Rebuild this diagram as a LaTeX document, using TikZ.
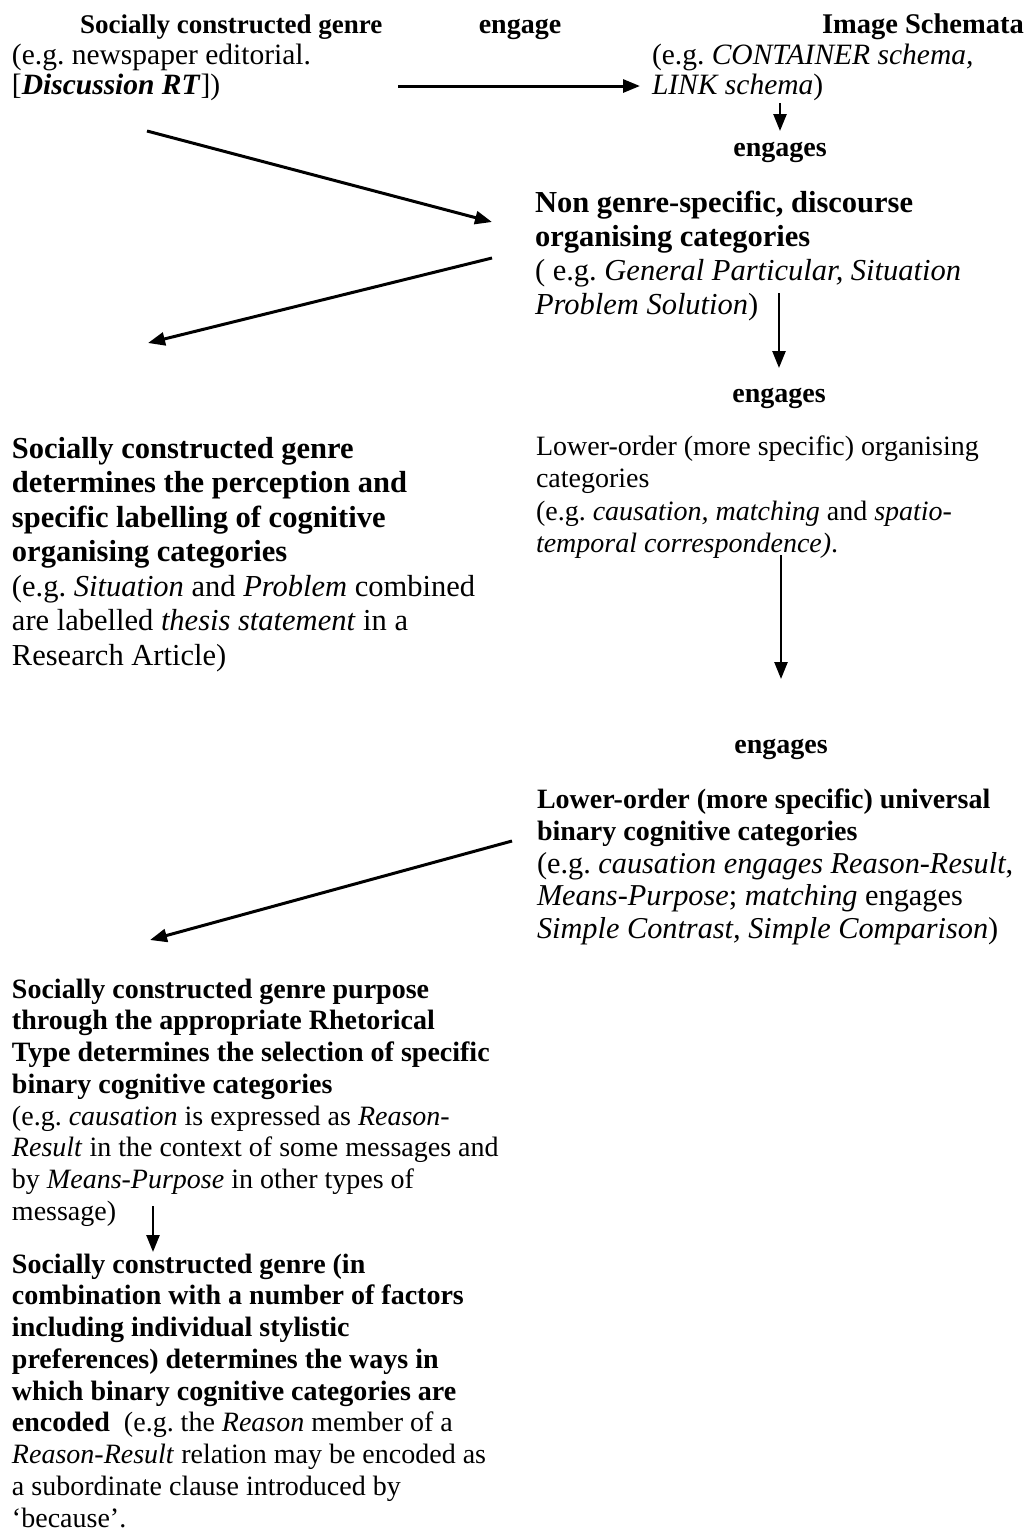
\documentclass[tikz,border=0pt]{standalone}
\usepackage{fontspec}
\setmainfont{Liberation Serif}
\usetikzlibrary{arrows.meta}
\newcommand\setfs[2]{\fontsize{#1}{#2}\selectfont}
\frenchspacing
\begin{document}
\begin{tikzpicture}[x=1pt,y=-1pt,
  % multi-line texts are anchored on the baseline of their last line
  txt/.style={inner sep=0pt, outer sep=0pt, align=left, anchor=base west},
  lbl/.style={inner sep=0pt, outer sep=0pt, anchor=base, font=\setfs{28}{32}\bfseries},
  flow/.style={line width=3pt, -{Triangle[length=17pt,width=13pt]}},
  ]
\useasboundingbox (0,0) rectangle (1031,1532);

% --- top row: genre, engage, image schemata
\node[txt, font=\setfs{27}{31}\bfseries] (genrehead) at (80,33) {Socially constructed genre};
\node[txt, font=\setfs{29.5}{30}] (genreex) at (12,94)
  {(e.g. newspaper editorial.\\ {[}\textbf{\textit{Discussion RT}}{]})};
\node[lbl] (engage) at (520,33) {engage};
\node[txt, font=\setfs{28.5}{31}\bfseries] (schemahead) at (822,33) {Image Schemata};
\node[txt, font=\setfs{29.5}{30}] (schemaex) at (652,94)
  {(e.g. \textit{CONTAINER schema,}\\ \textit{LINK schema})};

% --- right column
\node[lbl] (eng1) at (780,156) {engages};
\node[txt, font=\setfs{30.5}{34}] (nongenre) at (535,314)
  {\textbf{Non genre-specific, discourse}\\
   \textbf{organising categories}\\
   ( e.g. \textit{General Particular, Situation}\\
   \textit{Problem Solution})};
\node[lbl] (eng2) at (779,402) {engages};
\node[txt, font=\setfs{28}{32.5}] (lowerorg) at (536,552.5)
  {Lower-order (more specific) organising\\
   categories\\
   (e.g. \textit{causation, matching} and \textit{spatio-}\\
   \textit{temporal correspondence)}.};
\node[lbl] (eng3) at (781,753) {engages};
\node[txt, font=\setfs{30.3}{32.5}] (binary) at (537,938)
  {{\setfs{28}{32.5}\bfseries Lower-order (more specific) universal}\\
   {\setfs{28}{32.5}\bfseries binary cognitive categories}\\
   (e.g. \textit{causation engages Reason-Result},\\
   \textit{Means-Purpose}; \textit{matching} engages\\
   \textit{Simple Contrast, Simple Comparison})};

% --- left column
\node[txt, font=\setfs{30.5}{34.5}] (perception) at (12,665)
  {\textbf{Socially constructed genre}\\
   \textbf{determines the perception and}\\
   \textbf{specific labelling of cognitive}\\
   \textbf{organising categories}\\
   (e.g. \textit{Situation} and \textit{Problem} combined\\
   are labelled \textit{thesis statement} in a\\
   Research Article)};
\node[txt, font=\setfs{28}{31.75}] (selection) at (12,1220.25)
  {\textbf{Socially constructed genre purpose}\\
   \textbf{through the appropriate Rhetorical}\\
   \textbf{Type determines the selection of specific}\\
   \textbf{binary cognitive categories}\\
   (e.g. \textit{causation} is expressed as \textit{Reason-}\\
   \textit{Result} in the context of some messages and\\
   by \textit{Means-Purpose} in other types of\\
   message)};
\node[txt, font=\setfs{28}{31.75}] (encoding) at (12,1527)
  {\textbf{Socially constructed genre (in}\\
   \textbf{combination with a number of factors}\\
   \textbf{including individual stylistic}\\
   \textbf{preferences) determines the ways in}\\
   \textbf{which binary cognitive categories are}\\
   \textbf{encoded}\ \ (e.g. the \textit{Reason} member of a\\
   \textit{Reason-Result} relation may be encoded as\\
   a subordinate clause introduced by\\
   ‘because’.};

% --- arrow end points
\coordinate (h0) at (398,86);   \coordinate (h1) at (640,86);
\coordinate (s0) at (780,103);  \coordinate (s1) at (780,131);
\coordinate (d10) at (147,131); \coordinate (d11) at (492,222);
\coordinate (d20) at (492,258); \coordinate (d21) at (148,343);
\coordinate (v20) at (779,293); \coordinate (v21) at (779,368);
\coordinate (v30) at (781,555); \coordinate (v31) at (781,679);
\coordinate (d30) at (512,841); \coordinate (d31) at (150,940);
\coordinate (v40) at (153,1206); \coordinate (v41) at (153,1252);

\draw[flow] (h0) -- (h1);
\draw[flow, line width=2.5pt] (s0) -- (s1);
\draw[flow] (d10) -- (d11);
\draw[flow] (d20) -- (d21);
\draw[flow, line width=2.5pt] (v20) -- (v21);
\draw[flow, line width=2.5pt] (v30) -- (v31);
\draw[flow] (d30) -- (d31);
\draw[flow, line width=2.5pt] (v40) -- (v41);
\end{tikzpicture}
\end{document}
